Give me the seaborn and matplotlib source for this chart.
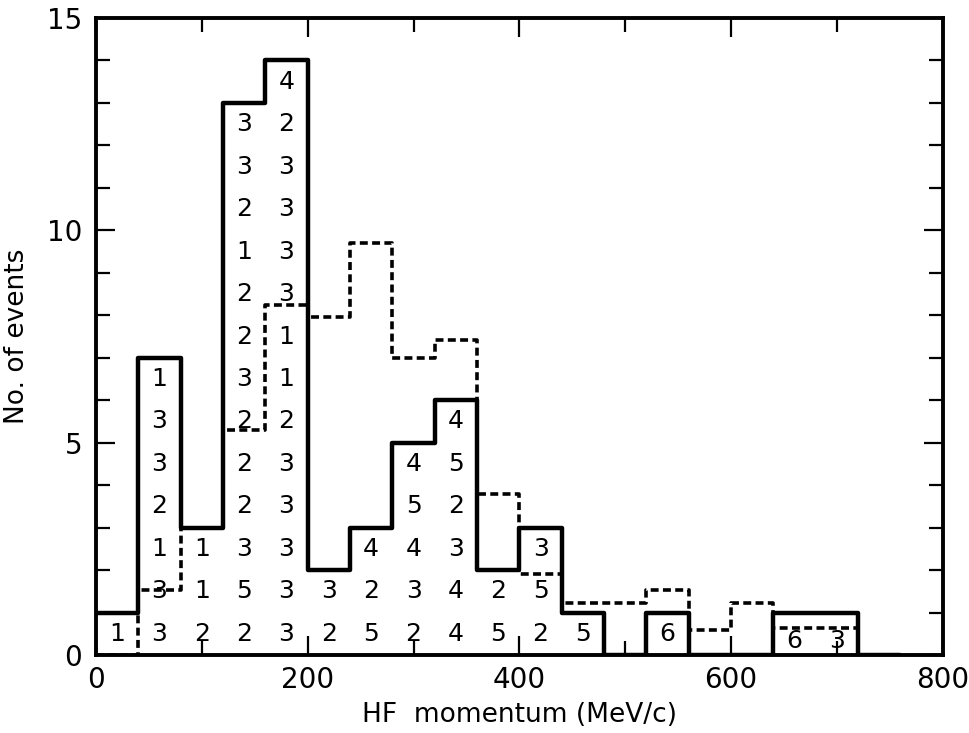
import numpy as np
import pandas as pd
import matplotlib
matplotlib.use("Agg")
import matplotlib.pyplot as plt
from matplotlib.ticker import MultipleLocator
import seaborn as sns

# ---- data ----
bin_edges = [0, 40, 80, 120, 160, 200, 240, 280, 320, 360, 400, 440, 480,
             520, 560, 600, 640, 680, 720, 760]
solid_counts = [1, 7, 3, 13, 14, 2, 3, 5, 6, 2, 3, 1, 0, 1, 0, 0, 1, 1, 0]
dashed_counts = [0, 1.53, 3.0, 5.3, 8.24, 7.97, 9.7, 7.0, 7.42, 3.8, 1.9,
                 1.23, 1.23, 1.53, 0.6, 1.22, 0.63, 0.63, 0]
# digits written inside each solid bin, bottom to top
bin_labels = [
    ["1"],
    ["3", "3", "1", "2", "3", "3", "1"],
    ["2", "1", "1"],
    ["2", "5", "3", "2", "2", "2", "3", "2", "2", "1", "2", "3", "3"],
    ["3", "3", "3", "3", "3", "2", "1", "1", "3", "3", "3", "3", "2", "4"],
    ["2", "3"],
    ["5", "2", "4"],
    ["2", "3", "4", "5", "4"],
    ["4", "4", "3", "2", "5", "4"],
    ["5", "2"],
    ["2", "5", "3"],
    ["5"],
    [],
    ["6"],
    [],
    [],
    ["6"],
    ["3"],
    [],
]
x_ticks = [0, 200, 400, 600, 800]
y_ticks = [0, 5, 10, 15]

centers = [(a + b) / 2 for a, b in zip(bin_edges[:-1], bin_edges[1:])]
df = pd.DataFrame({"center": centers, "solid": solid_counts, "dashed": dashed_counts})

sns.set_style("ticks")
plt.rcParams["font.family"] = ["DejaVu Sans"]

fig = plt.figure(figsize=(9.7, 7.33), dpi=100)
ax = fig.add_axes([0.099, 0.1064, 0.873, 0.869])

sns.histplot(data=df, x="center", weights="dashed", bins=bin_edges,
             element="step", fill=False, color="black", linewidth=2.6,
             linestyle=(0, (2.2, 1.2)), ax=ax)
sns.histplot(data=df, x="center", weights="solid", bins=bin_edges,
             element="step", fill=False, color="black", linewidth=3.2, ax=ax)

for c, labs in zip(centers, bin_labels):
    for k, s in enumerate(labs):
        y = k + 0.5
        if c > 640:
            y = 0.33
        ax.text(c, y, s, ha="center", va="center", fontsize=18, color="black")

ax.set_xlim(0, 800)
ax.set_ylim(0, 15)
ax.set_xticks(x_ticks)
ax.set_yticks(y_ticks)
ax.xaxis.set_minor_locator(MultipleLocator(100))
ax.yaxis.set_minor_locator(MultipleLocator(1))
ax.tick_params(which="both", direction="in", top=True, right=True,
               width=1.6, colors="black")
ax.tick_params(which="major", length=14, labelsize=20, pad=8)
ax.tick_params(which="minor", length=10)
ax.tick_params(axis="y", which="major", pad=10)
for sp in ax.spines.values():
    sp.set_linewidth(2.8)
    sp.set_visible(True)
    sp.set_color("black")

ax.set_xlabel("HF  momentum (MeV/c)", fontsize=19, labelpad=6, color="black")
ax.set_ylabel("No. of events", fontsize=19, labelpad=12, color="black")

fig.savefig("out.png", dpi=100, facecolor="white")
